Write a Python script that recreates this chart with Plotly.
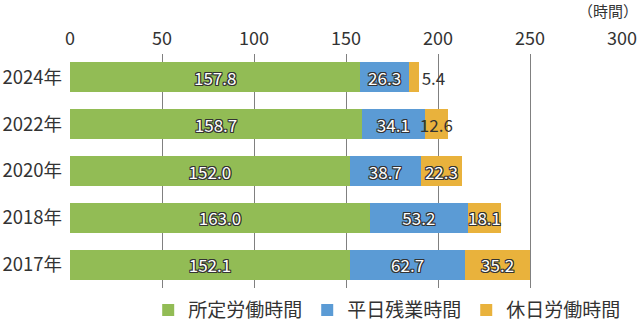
import plotly.graph_objects as go

years = ["2024年", "2022年", "2020年", "2018年", "2017年"]
scheduled = [157.8, 158.7, 152.0, 163.0, 152.1]
weekday_ot = [26.3, 34.1, 38.7, 53.2, 62.7]
holiday = [5.4, 12.6, 22.3, 18.1, 35.2]
series_names = ["所定労働時間", "平日残業時間", "休日労働時間"]
x_ticks = [0, 50, 100, 150, 200, 250, 300]
unit_label = "（時間）"

FONT = "Noto Sans CJK JP"
OUTLINE = ("1px 1px 0 #333, -1px -1px 0 #333, 1px -1px 0 #333, -1px 1px 0 #333, "
           "0 1px 0 #333, 0 -1px 0 #333, 1px 0 0 #333, -1px 0 0 #333")
colors = ["#92bc55", "#5b9bd5", "#e9b23c"]

fig = go.Figure()
for vals, name, col in zip([scheduled, weekday_ot], series_names[:2], colors[:2]):
    fig.add_trace(go.Bar(
        y=years, x=vals, name=name, orientation="h", marker=dict(color=col, line=dict(width=0)),
        text=[f"{v:.1f}" for v in vals], textposition="inside", insidetextanchor="middle",
        constraintext="none", textangle=0,
        textfont=dict(family=FONT, size=17, color="white", shadow=OUTLINE),
    ))

hol_pos = ["outside", "inside", "inside", "inside", "inside"]
hol_color = ["#333333", "#333333", "white", "white", "white"]
hol_shadow = ["none", "none", OUTLINE, OUTLINE, OUTLINE]
fig.add_trace(go.Bar(
    y=years, x=holiday, name=series_names[2], orientation="h",
    marker=dict(color=colors[2], line=dict(width=0)),
    text=[f"{v:.1f}" for v in holiday], textposition=hol_pos, insidetextanchor="middle",
    constraintext="none", cliponaxis=False, textangle=0,
    textfont=dict(family=FONT, size=17, color=hol_color, shadow=hol_shadow),
))

fig.update_layout(
    width=640, height=325,
    barmode="stack", bargap=0.36,
    plot_bgcolor="white", paper_bgcolor="white",
    margin=dict(l=70, r=18, t=54, b=37, autoexpand=False),
    font=dict(family=FONT, color="#333333"),
    xaxis=dict(side="top", range=[0, 300], tickvals=x_ticks, showgrid=True,
               gridcolor="#808080", gridwidth=1, zeroline=False, showline=False,
               tickfont=dict(size=18, color="#333"), ticks="", ticklabelstandoff=4,
               fixedrange=True),
    yaxis=dict(type="category", categoryorder="array", categoryarray=years,
               range=[4.5, -0.5], tickfont=dict(size=18.5, color="#333"),
               showgrid=False, zeroline=False, showline=False, ticks="",
               ticklabelstandoff=7),
    legend=dict(orientation="h", xref="container", x=0.605, xanchor="center",
                yref="container", y=0.046, yanchor="middle",
                font=dict(size=19, color="#333"), itemwidth=30, traceorder="normal",
                bgcolor="rgba(0,0,0,0)"),
    annotations=[dict(text=unit_label, xref="paper", yref="paper", x=1, xshift=-14,
                      xanchor="center", y=1, yshift=44, yanchor="middle", showarrow=False,
                      font=dict(size=15, color="#333"))],
)

fig.write_html("out.html")
